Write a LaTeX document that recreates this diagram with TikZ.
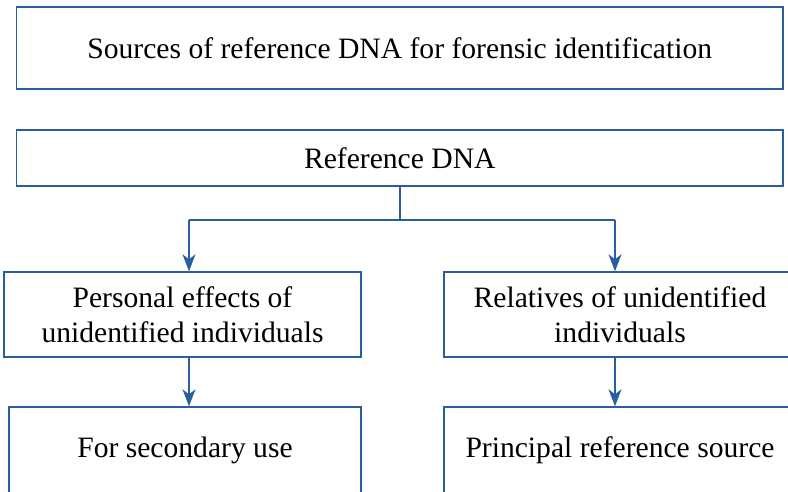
\documentclass[tikz,border=0pt]{standalone}
\usepackage{fontspec}
\setmainfont{Liberation Serif}
\usetikzlibrary{arrows.meta}
\definecolor{boxblue}{RGB}{40,95,160}
\tikzset{
  box/.style={draw=boxblue, line width=1.4pt, fill=white, align=center,
    inner sep=0pt, font=\fontsize{29.6}{35}\selectfont},
  arr/.style={draw=boxblue, line width=1.4pt, -{Stealth[length=17pt,width=13pt,inset=5pt]}},
  conn/.style={draw=boxblue, line width=1.4pt}
}
\begin{document}
\begin{tikzpicture}[x=1pt,y=-1pt]
\useasboundingbox (0,0) rectangle (788,491);
\clip (0,0) rectangle (788,491);
\node[box, minimum width=766.5pt, minimum height=82pt] (title) at (399.75,48)
  {Sources of reference DNA for forensic identification};
\node[box, minimum width=766.5pt, minimum height=56pt] (ref) at (399.75,158)
  {Reference DNA};
\node[box, minimum width=357pt, minimum height=85pt] (lm) at (182.5,314.5)
  {Personal effects of\\unidentified individuals};
\node[box, minimum width=352pt, minimum height=85pt] (rm) at (620,314.5)
  {Relatives of unidentified\\individuals};
\node[box, minimum width=352pt, minimum height=86pt] (bl) at (185,450)
  {For secondary use};
\node[box, minimum width=352pt, minimum height=86pt] (br) at (620,450)
  {Principal reference source};
\coordinate (j) at (400,220);
\coordinate (jl) at (189,220);
\coordinate (jr) at (615,220);
\draw[conn] (ref.south -| j) -- (j);
\draw[conn] (jl) -- (jr);
\draw[arr] (jl) -- (jl |- lm.north);
\draw[arr] (jr) -- (jr |- rm.north);
\draw[arr] (jl |- lm.south) -- (jl |- bl.north);
\draw[arr] (jr |- rm.south) -- (jr |- br.north);
\end{tikzpicture}
\end{document}
